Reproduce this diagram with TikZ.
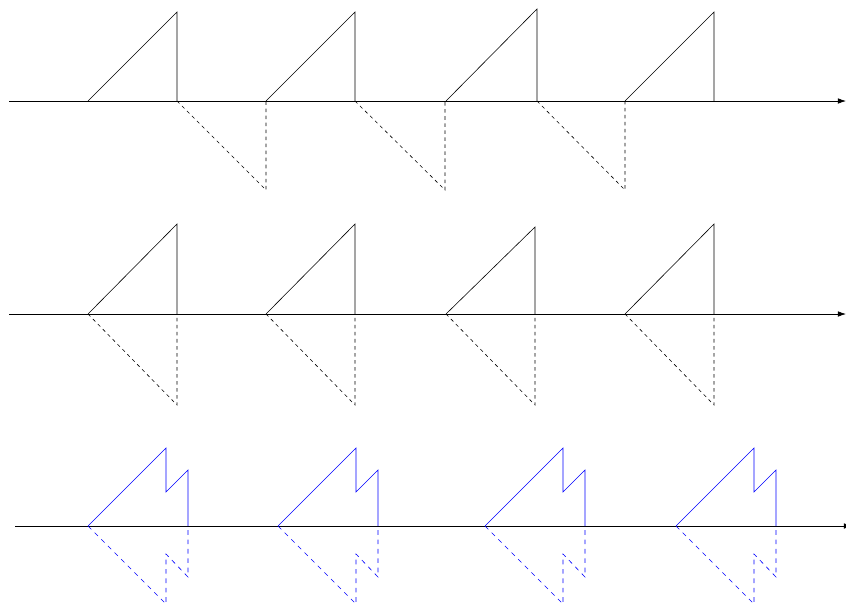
\documentclass[tikz,border=0pt]{standalone}
\usepackage{xcolor}
\usepackage{tikz}
\usetikzlibrary{arrows.meta, calc}

\begin{document}
\begin{tikzpicture}[x=0.03cm, y=-0.03cm, line width=0.5pt,
    axis/.style={-{Latex[length=7pt, width=4.8pt]}, line width=0.6pt},
    pulse/.style={},
    echo/.style={dashed},
    sumecho/.style={dash pattern=on 4pt off 4pt}]
        \useasboundingbox (0,0) rectangle (846,605);

        % Axes
        \draw[axis] (9,101) -- (846,101);
        \draw[axis] (9,314) -- (846,314);
        \draw[axis] (15,526) -- (852,526);

        % Row 1: ramps above, shifted ramps below
        \draw[pulse] (88,101) -- (177,12) -- (177,101);
        \draw[pulse] (266,101) -- (355,12) -- (355,101);
        \draw[pulse] (446,101) -- (537,9) -- (537,101);
        \draw[pulse] (625,101) -- (714,12) -- (714,101);
        \draw[echo] (177,101) -- (266,190) -- (266,101);
        \draw[echo] (355,101) -- (445,190) -- (445,101);
        \draw[echo] (537,101) -- (625,190) -- (625,101);

        % Row 2: ramps above, mirrored ramps below
        \draw[pulse] (88,314) -- (177,224) -- (177,314);
        \draw[pulse] (266,314) -- (355,224) -- (355,314);
        \draw[pulse] (446,314) -- (535,227) -- (535,314);
        \draw[pulse] (625,314) -- (714,224) -- (714,314);
        \draw[echo] (88,314) -- (177,405) -- (177,314);
        \draw[echo] (266,314) -- (355,405) -- (355,314);
        \draw[echo] (446,314) -- (535,405) -- (535,314);
        \draw[echo] (625,314) -- (714,405) -- (714,314);

        % Row 3: sum of two ramps
        \foreach \s in {88, 278, 485, 676} {
            \draw[pulse, blue] (\s,526) -- ++(78,-78) -- ++(0,44) -- ++(22,-22) -- ++(0,56);
            \draw[sumecho, blue] (\s,526) -- ++(78,78) -- ++(0,-50) -- ++(22,23) -- ++(0,-51);
        }
    \end{tikzpicture}
\end{document}
